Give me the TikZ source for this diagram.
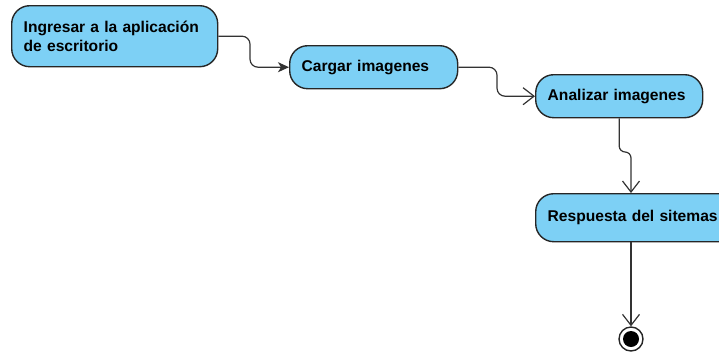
\documentclass[tikz,border=0pt]{standalone}
\usepackage{fontspec}
\setmainfont{Liberation Sans}
\usetikzlibrary{arrows.meta}
\definecolor{actfill}{HTML}{7DD0F5}
\begin{document}
\begin{tikzpicture}[x=1pt,y=-1pt,
  act/.style={draw=black!85, line width=1.4pt, fill=actfill, rounded corners=18pt,
    inner xsep=12pt, inner ysep=0pt, align=left, anchor=north west,
    font=\bfseries\fontsize{15.6}{19}\selectfont},
  flow/.style={draw=black!80, line width=1.2pt, rounded corners=8pt},
  openarrow/.style={-{Straight Barb[length=11pt,width=17pt,line width=1.2pt]}},
  filledarrow/.style={-{Stealth[length=11pt,width=10pt,inset=3pt]}}
]
\useasboundingbox (0,0) rectangle (719,354);
\clip (0,0) rectangle (719,354);
\node[act, text width=182pt, minimum height=61pt] (a) at (11,5) {Ingresar a la aplicación\\de escritorio};
\node[act, text width=144pt, minimum height=43pt] (b) at (289,45) {Cargar imagenes};
\node[act, text width=143pt, minimum height=43pt] (c) at (535,74) {Analizar imagenes};
\node[act, text width=180pt, minimum height=48pt] (d) at (535,193) {Respuesta del sitemas};
\node[circle, draw=black!85, line width=1.4pt, fill=white, minimum size=24pt, inner sep=0pt] (f) at (631,339) {};
\node[circle, fill=black, minimum size=16pt, inner sep=0pt] (fi) at (f.center) {};
\draw[flow, filledarrow] (a.east) -- (a.east -| 250,0) -- (b.west -| 250,0) -- (b.west);
\draw[flow, openarrow] (b.east) -- (b.east -| 497,0) -- (c.west -| 497,0) -- (c.west);
\draw[flow, openarrow, rounded corners=6pt] (c.south) -- (c.south |- 0,152) -- (f.north |- 0,152) -- (f.north |- d.north);
\draw[flow, openarrow] (f.north |- d.south) -- (f.north);
\end{tikzpicture}
\end{document}
